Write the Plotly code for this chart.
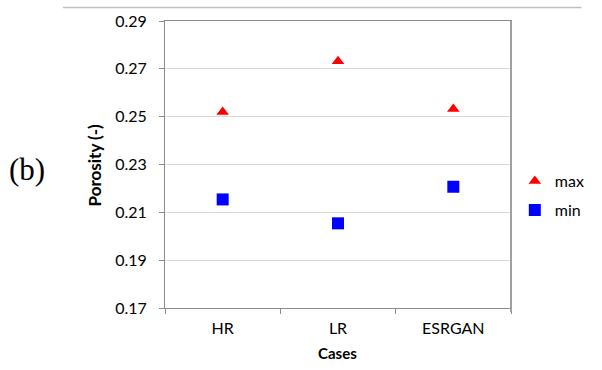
import plotly.graph_objects as go

# Porosity range per case
cases = ["HR", "LR", "ESRGAN"]
porosity_max = [0.252, 0.2732, 0.2532]
porosity_min = [0.2154, 0.2054, 0.2207]
y_ticks = [0.17, 0.19, 0.21, 0.23, 0.25, 0.27, 0.29]

FONT = "Lato"
AXIS_GRAY = "#8c8c8c"

# plot-area geometry in pixels (used to place free text in paper coordinates)
W, H = 602, 370
L, R, T, B = 165, 74, 21, 62
PW, PH = W - L - R, H - T - B


def px_x(x):
    return (x - L) / PW


def px_y(y):
    return (H - B - y) / PH


fig = go.Figure()
fig.add_trace(go.Scatter(
    x=cases, y=porosity_max, mode="markers", name="max", legend="legend",
    marker=dict(symbol="triangle-up", size=11, color="#ff0000"),
))
fig.add_trace(go.Scatter(
    x=cases, y=porosity_min, mode="markers", name="min", legend="legend2",
    marker=dict(symbol="square", size=12, color="#0000ff"),
))

legend_style = dict(
    xanchor="left", yanchor="middle",
    font=dict(family=FONT, size=16, color="#000000"),
    itemwidth=30, bgcolor="rgba(0,0,0,0)", borderwidth=0,
)

fig.update_layout(
    width=W, height=H,
    margin=dict(l=L, r=R, t=T, b=B),
    paper_bgcolor="white", plot_bgcolor="white",
    font=dict(family=FONT, size=16, color="#000000"),
    showlegend=True,
    legend=dict(x=px_x(532), y=px_y(181), **legend_style),
    legend2=dict(x=px_x(532), y=px_y(210), **legend_style),
    xaxis=dict(
        type="category", range=[-0.5, 2.5],
        showline=True, linecolor=AXIS_GRAY, linewidth=1, mirror=True,
        ticks="outside", tickson="boundaries", ticklen=5, tickcolor=AXIS_GRAY,
        ticklabelstandoff=6,
        showgrid=False, tickfont=dict(family=FONT, size=16),
    ),
    yaxis=dict(
        range=[0.17, 0.29], tickvals=y_ticks,
        ticktext=[f"{v:.2f}" for v in y_ticks],
        showline=True, linecolor=AXIS_GRAY, linewidth=1, mirror=True,
        ticks="outside", ticklen=5, tickcolor=AXIS_GRAY,
        ticklabelstandoff=9,
        showgrid=True, gridcolor="#d9d9d9", gridwidth=1,
        zeroline=False, tickfont=dict(family=FONT, size=16),
    ),
    annotations=[
        dict(text="(b)", x=px_x(20), y=px_y(169), xref="paper", yref="paper",
             xanchor="center", yanchor="middle", showarrow=False,
             font=dict(family="Liberation Serif", size=31)),
        dict(text="<b>Porosity (-)</b>", x=px_x(91), y=px_y(165),
             xref="paper", yref="paper", textangle=-90, showarrow=False,
             xanchor="center", yanchor="middle",
             font=dict(family=FONT, size=17)),
        dict(text="<b>Cases</b>", x=px_x(346), y=px_y(353),
             xref="paper", yref="paper", showarrow=False,
             xanchor="center", yanchor="middle",
             font=dict(family=FONT, size=15)),
    ],
    shapes=[
        # thin rule across the top of the figure
        dict(type="line", xref="paper", yref="paper",
             x0=px_x(58), x1=px_x(602), y0=px_y(7.5), y1=px_y(7.5),
             line=dict(color="#c0c0c0", width=1.5)),
        # heavier right-hand frame edge
        dict(type="line", xref="paper", yref="paper",
             x0=1, x1=1, y0=px_y(312), y1=1,
             line=dict(color="#a0a0a0", width=2)),
    ],
)

fig.write_html("out.html")
